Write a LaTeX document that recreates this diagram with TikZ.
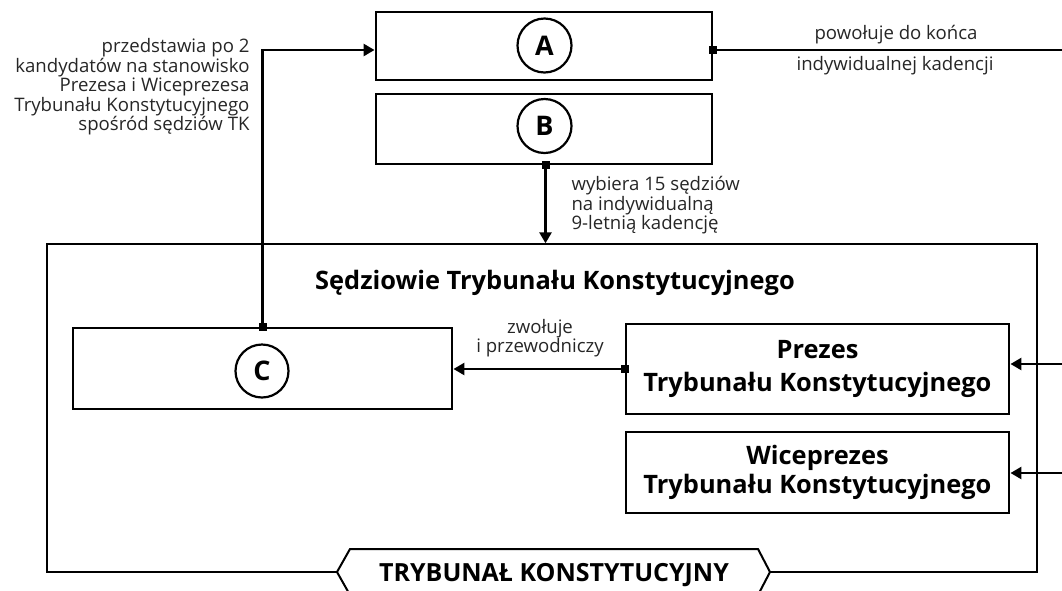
\documentclass[tikz,border=0pt]{standalone}
\usepackage{fontspec}
\setmainfont{Open Sans}
\usetikzlibrary{arrows.meta,calc}
\tikzset{
  blk/.style={draw, line width=2.9pt, inner sep=0pt},
  letter/.style={draw, circle, line width=2.2pt, minimum size=54pt, inner sep=0pt, font=\fontsize{27}{27}\selectfont\bfseries},
  conn/.style={line width=2.6pt},
  arr/.style={conn, -{Triangle[length=11pt,width=12pt]}},
  sq/.style={fill, minimum size=8pt, inner sep=0pt},
  small/.style={font=\fontsize{18.6}{17.6}\selectfont, text=black!85},
  big/.style={font=\fontsize{25.4}{32.5}\selectfont\bfseries, align=center},
}
\begin{document}
\begin{tikzpicture}[x=1pt,y=-1pt]
\useasboundingbox (0,0) rectangle (1062,590);
% outer frame
\node[draw, line width=1.4pt, minimum width=990pt, minimum height=328pt, inner sep=0pt] (T) at (542,408) {};
% top boxes
\node[blk, minimum width=336pt, minimum height=68pt] (A) at (544,46) {};
\node[letter] (cA) at (544.5,45.5) {A};
\node[blk, minimum width=336pt, minimum height=70pt] (B) at (544,129) {};
\node[letter] (cB) at (544.5,126) {B};
% C box
\node[blk, minimum width=379pt, minimum height=81pt] (C) at (262.5,368.5) {};
\node[letter, minimum size=53pt] (cC) at (262,371) {C};
% Prezes, Wiceprezes
\node[blk, big, minimum width=383pt, minimum height=90pt] (P) at (817.5,369) {Prezes\\Trybunału Konstytucyjnego};
\node[blk, big, font=\fontsize{25.4}{28.5}\selectfont\bfseries, minimum width=383pt, minimum height=81pt] (W) at (817.5,472.5) {Wiceprezes\\Trybunału Konstytucyjnego};
% title
\node[font=\fontsize{25.4}{27}\selectfont\bfseries] (title) at (555,283) {Sędziowie Trybunału Konstytucyjnego};
% bottom tag
\draw[line width=2pt, fill=white] (337,572) -- (350,549) -- (758,549) -- (770,572) -- (758,595) -- (350,595) -- cycle;
\node[font=\fontsize{25}{27}\selectfont\bfseries] (tag) at (554,575) {TRYBUNAŁ KONSTYTUCYJNY};
% free ends
\coordinate (aR) at (1062,50);
\coordinate (pR) at (1062,364);
\coordinate (wR) at (1062,473);
\coordinate (aL) at ($(A.west)+(0,4)$);
\coordinate (aE) at ($(A.east)+(0,4)$);
% connectors
\draw[conn] (aE) -- (aR);
\node[sq] (sqA) at (aE) {};
\draw[arr] (C.north) |- (aL);
\node[sq] (sqC) at (C.north) {};
\draw[arr] ([xshift=1.5pt]B.south) -- ([xshift=1.5pt]B.south |- T.north);
\node[sq] (sqB) at ([xshift=1.5pt]B.south) {};
\draw[arr] (P.west) -- (P.west -| C.east);
\node[sq] (sqP) at (P.west) {};
\draw[arr] (pR) -- (pR -| P.east);
\draw[arr] (wR) -- (wR -| W.east);
% labels
\node[small, align=center] (l1) at (896,35) {powołuje do końca};
\node[small, align=center] (l2) at (895,66) {indywidualnej kadencji};
\node[small, align=right, anchor=north east] (l3) at (253,35) {przedstawia po 2\\kandydatów na stanowisko\\Prezesa i Wiceprezesa\\Trybunału Konstytucyjnego\\spośród sędziów TK};
\node[small, align=left, anchor=north west] (l4) at (568,173) {wybiera 15 sędziów\\na indywidualną\\9-letnią kadencję};
\node[small, align=center] (l5) at (540,338) {zwołuje\\i przewodniczy};
\end{tikzpicture}
\end{document}
